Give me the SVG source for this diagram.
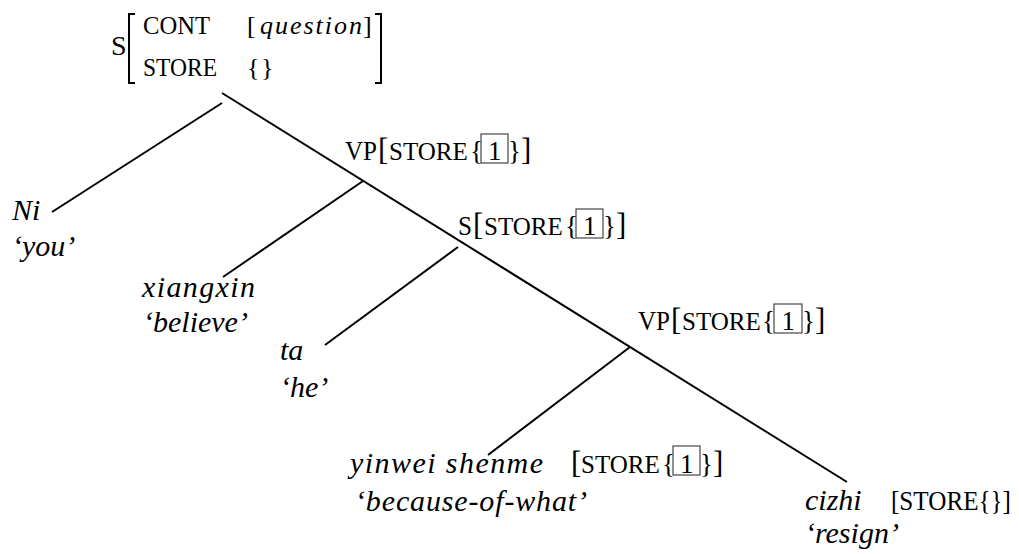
<svg xmlns="http://www.w3.org/2000/svg" width="1019" height="554" viewBox="0 0 1019 554">
<style>
text{font-family:"Liberation Serif","Times New Roman",serif;fill:#000}
.avm{font-size:26px}
.lab{font-size:27px}
.st{font-size:25px}
.br{font-size:31px}
.it{font-size:30px;font-style:italic}
.box{fill:none;stroke:#333;stroke-width:1.1}
.edge{stroke:#000;stroke-width:2;fill:none}
.bigbr{stroke:#000;stroke-width:2;fill:none}
</style>
<rect width="1019" height="554" fill="#fff"/>
<g id="connectors">
<line class="edge" x1="222" y1="93" x2="847" y2="482"/>
<line class="edge" x1="222" y1="103" x2="52" y2="212"/>
<line class="edge" x1="363" y1="181" x2="223" y2="277"/>
<line class="edge" x1="458" y1="247" x2="325" y2="345"/>
<line class="edge" x1="630" y1="347" x2="488" y2="455"/>
</g>
<g id="node-S-root">
<text x="111" y="55" font-size="28">S</text>
<path class="bigbr" d="M135,14 H129 V83 H135"/>
<text class="avm" x="143" y="34" textLength="67" lengthAdjust="spacingAndGlyphs">CONT</text>
<text class="avm" x="143" y="76" textLength="74" lengthAdjust="spacingAndGlyphs">STORE</text>
<text class="avm" y="34"><tspan x="247">[</tspan><tspan x="260" font-style="italic" textLength="102" lengthAdjust="spacing">question</tspan><tspan x="363">]</tspan></text>
<text class="avm" y="76"><tspan x="247">{</tspan><tspan x="261">}</tspan></text>
<path class="bigbr" d="M375,14 H381 V83 H375"/>
</g>
<g id="node-VP1">
<rect class="box" x="481" y="134" width="27" height="29"/>
<text class="lab" y="160"><tspan x="345" textLength="32" lengthAdjust="spacingAndGlyphs">VP</tspan><tspan x="378" class="br">[</tspan><tspan x="389" class="st">STORE</tspan><tspan x="470">{</tspan><tspan x="488">1</tspan><tspan x="508">}</tspan><tspan x="521" class="br">]</tspan></text>
</g>
<g id="node-S2">
<rect class="box" x="576" y="209" width="27" height="29"/>
<text class="lab" y="235"><tspan x="458" textLength="14" lengthAdjust="spacingAndGlyphs">S</tspan><tspan x="473" class="br">[</tspan><tspan x="484" class="st">STORE</tspan><tspan x="565">{</tspan><tspan x="583">1</tspan><tspan x="603">}</tspan><tspan x="616" class="br">]</tspan></text>
</g>
<g id="node-VP2">
<rect class="box" x="774" y="304" width="28" height="29"/>
<text class="lab" y="330"><tspan x="638" textLength="32" lengthAdjust="spacingAndGlyphs">VP</tspan><tspan x="671" class="br">[</tspan><tspan x="682" class="st">STORE</tspan><tspan x="762">{</tspan><tspan x="781.5">1</tspan><tspan x="802">}</tspan><tspan x="815" class="br">]</tspan></text>
</g>
<g id="node-Ni">
<text class="it" x="12" y="220">Ni</text>
<text class="it" x="12" y="256">‘you’</text>
</g>
<g id="node-xiangxin">
<text class="it" x="142" y="297" textLength="113" lengthAdjust="spacing">xiangxin</text>
<text class="it" x="143" y="332">‘believe’</text>
</g>
<g id="node-ta">
<text class="it" x="280" y="360">ta</text>
<text class="it" x="280" y="397">‘he’</text>
</g>
<g id="node-yinwei">
<text class="it" x="350" y="473" textLength="193" lengthAdjust="spacing">yinwei shenme</text>
<text class="it" x="355" y="511" textLength="232" lengthAdjust="spacing">‘because-of-what’</text>
<rect class="box" x="673" y="446" width="27" height="29"/>
<text class="lab" y="473"><tspan x="571" class="br">[</tspan><tspan x="581" class="st">STORE</tspan><tspan x="662">{</tspan><tspan x="680">1</tspan><tspan x="700">}</tspan><tspan x="713" class="br">]</tspan></text>
</g>
<g id="node-cizhi">
<text class="it" x="805" y="510">cizhi</text>
<text class="it" x="805" y="543">‘resign’</text>
<text class="lab" x="891" y="510" textLength="120" lengthAdjust="spacingAndGlyphs">[STORE{}]</text>
</g>
</svg>
